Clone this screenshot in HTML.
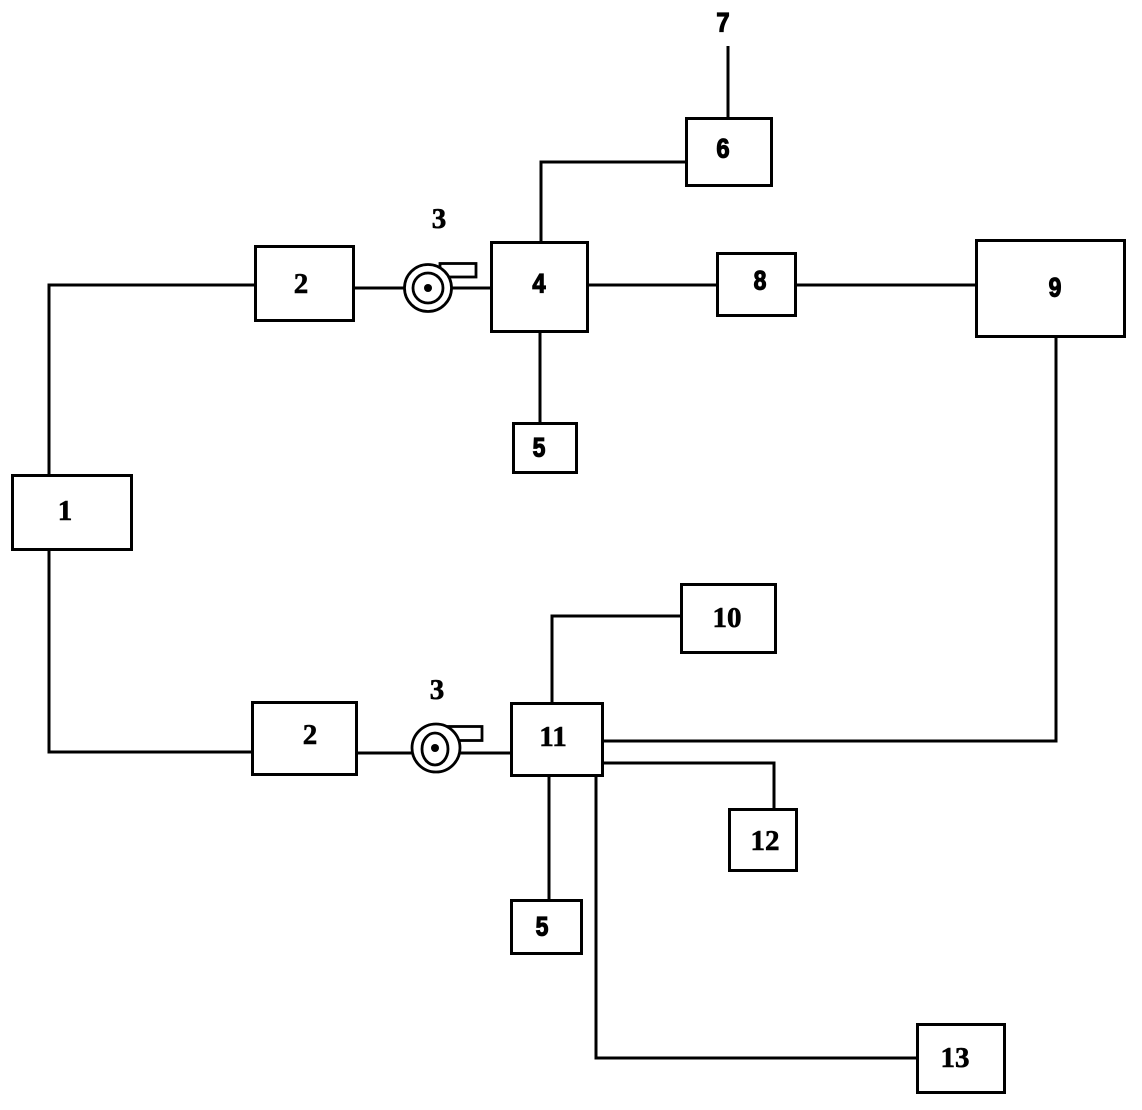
<!DOCTYPE html>
<html>
<head>
<meta charset="utf-8">
<style>
  html, body { margin: 0; padding: 0; background: #fff; }
  svg { display: block; }
  .b { fill: none; stroke: #000; stroke-width: 3; }
  .l { fill: none; stroke: #000; stroke-width: 3; }
  .s { font-family: "Liberation Serif", serif; font-weight: bold; font-size: 29px; text-anchor: middle; dominant-baseline: central; stroke: #000; stroke-width: 0.6; }
  .a { font-family: "Liberation Sans", sans-serif; font-weight: bold; font-size: 27px; text-anchor: middle; dominant-baseline: central; stroke: #000; stroke-width: 1.2; }
</style>
</head>
<body>
<svg width="1142" height="1110" viewBox="0 0 1142 1110" xmlns="http://www.w3.org/2000/svg">
  <!-- connectors -->
  <path class="l" d="M49 475 V285 H255"/>
  <path class="l" d="M49 550 V752 H252"/>
  <path class="l" d="M355 288 H405"/>
  <path class="l" d="M452 288 H491"/>
  <path class="l" d="M358 753 H412"/>
  <path class="l" d="M460 753 H511"/>
  <path class="l" d="M541 242 V162 H686"/>
  <path class="l" d="M728 118 V46"/>
  <path class="l" d="M588 285 H717"/>
  <path class="l" d="M796 285 H976"/>
  <path class="l" d="M540 332 V423"/>
  <path class="l" d="M1056 337 V741 H603"/>
  <path class="l" d="M552 703 V616 H681"/>
  <path class="l" d="M603 763 H774 V809"/>
  <path class="l" d="M549 776 V900"/>
  <path class="l" d="M596 776 V1058 H917"/>

  <!-- boxes -->
  <rect class="b" x="12.5" y="475.5" width="119" height="74" fill="#fff"/>
  <rect class="b" x="255.5" y="246.5" width="98" height="74" fill="#fff"/>
  <rect class="b" x="252.5" y="702.5" width="104" height="72" fill="#fff"/>
  <rect class="b" x="491.5" y="242.5" width="96" height="89" fill="#fff"/>
  <rect class="b" x="513.5" y="423.5" width="63" height="49" fill="#fff"/>
  <rect class="b" x="686.5" y="118.5" width="85" height="67" fill="#fff"/>
  <rect class="b" x="717.5" y="253.5" width="78" height="62" fill="#fff"/>
  <rect class="b" x="976.5" y="240.5" width="148" height="96" fill="#fff"/>
  <rect class="b" x="681.5" y="584.5" width="94" height="68" fill="#fff"/>
  <rect class="b" x="511.5" y="703.5" width="91" height="72" fill="#fff"/>
  <rect class="b" x="729.5" y="809.5" width="67" height="61" fill="#fff"/>
  <rect class="b" x="511.5" y="900.5" width="70" height="53" fill="#fff"/>
  <rect class="b" x="917.5" y="1024.5" width="87" height="68" fill="#fff"/>

  <!-- pump top -->
  <rect x="440" y="263.5" width="36" height="13.5" fill="#fff" stroke="#000" stroke-width="2.8"/>
  <circle cx="428" cy="288" r="23.5" fill="#fff" stroke="#000" stroke-width="2.8"/>
  <circle cx="428" cy="288" r="15" fill="none" stroke="#000" stroke-width="2.8"/>
  <circle cx="428" cy="288" r="4" fill="#000"/>

  <!-- pump bottom -->
  <rect x="447" y="726.5" width="35" height="14" fill="#fff" stroke="#000" stroke-width="2.8"/>
  <circle cx="436" cy="748" r="24" fill="#fff" stroke="#000" stroke-width="2.8"/>
  <ellipse cx="435" cy="749" rx="13" ry="16" fill="none" stroke="#000" stroke-width="2.8"/>
  <circle cx="435" cy="748" r="4" fill="#000"/>

  <!-- labels -->
  <text class="s" x="65" y="511">1</text>
  <text class="s" x="301" y="284">2</text>
  <text class="s" x="310" y="735">2</text>
  <text class="s" x="439" y="219">3</text>
  <text class="s" x="437" y="690">3</text>
  <text class="a" x="539" y="284" transform="translate(539 0) scale(0.88 1) translate(-539 0)">4</text>
  <text class="a" x="539" y="448" transform="translate(539 0) scale(0.85 1) translate(-539 0)">5</text>
  <text class="a" x="542" y="927" transform="translate(542 0) scale(0.85 1) translate(-542 0)">5</text>
  <text class="a" x="723" y="149" transform="translate(723 0) scale(0.88 1) translate(-723 0)">6</text>
  <text class="a" x="723" y="23" transform="translate(723 0) scale(0.88 1) translate(-723 0)">7</text>
  <text class="a" x="760" y="281" transform="translate(760 0) scale(0.85 1) translate(-760 0)">8</text>
  <text class="a" x="1055" y="288" transform="translate(1055 0) scale(0.85 1) translate(-1055 0)">9</text>
  <text class="s" x="727" y="618">10</text>
  <text class="s" x="553" y="737">11</text>
  <text class="s" x="765" y="841">12</text>
  <text class="s" x="955" y="1058">13</text>
</svg>
</body>
</html>
